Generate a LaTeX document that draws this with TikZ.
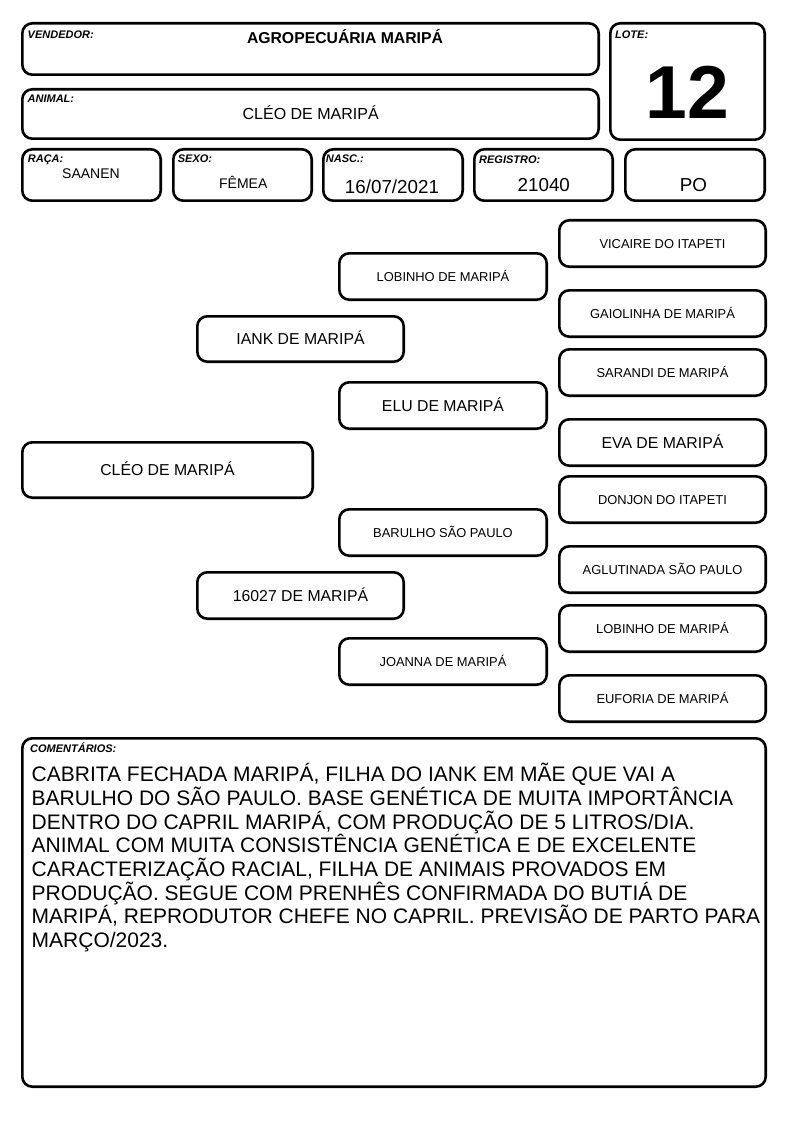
\documentclass[tikz,border=0pt]{standalone}
\usepackage{fontspec}
\setmainfont{Liberation Sans}
\usetikzlibrary{positioning}
\providecommand*{\pxfont}[1]{\fontsize{#1}{#1}\selectfont}

\tikzset{
    box/.style = {draw, line width = 2.6pt, rounded corners = 10pt, inner sep = 0pt, align = center},
    lbl/.style = {anchor = base west, inner sep = 0pt, font = \pxfont{11}\bfseries\itshape},
    val/.style = {anchor = base, inner sep = 0pt},
    small/.style = {font = \pxfont{12.9}, text height = 9.2pt, text depth = 0pt},
    big/.style = {font = \pxfont{15.8}, text height = 11.3pt, text depth = 0pt},
}

\begin{document}
\begin{tikzpicture}[x = 1pt, y = -1pt, black]
    \useasboundingbox (0,0) rectangle (794,1123);

    % header
    \node (vend) [box, minimum width = 576.4pt, minimum height = 51.4pt] at (310.5,49) {};
    \node (anim) [box, minimum width = 576.4pt, minimum height = 49.4pt] at (310.5,114) {};
    \node (lote) [box, minimum width = 154.4pt, minimum height = 116.4pt] at (687.5,81.5) {};

    \node (vendlbl) [lbl] at (27.5,39) {VENDEDOR:};
    \node (vendval) [val, font = \pxfont{15.75}\bfseries] at (345,43.3) {AGROPECUÁRIA MARIPÁ};
    \node (animlbl) [lbl] at (27.5,103) {ANIMAL:};
    \node (animval) [val, font = \pxfont{16}] at (310.7,120) {CLÉO DE MARIPÁ};
    \node (lotelbl) [lbl] at (615,39) {LOTE:};
    \node (loteval) [val, font = \pxfont{75}\bfseries] at (687.5,118.3) {12};

    \node (raca) [box, minimum width = 138.4pt, minimum height = 51.4pt] at (91.5,175) {};
    \node (sexo) [box, minimum width = 138.4pt, minimum height = 51.4pt] at (242.5,175) {};
    \node (nasc) [box, minimum width = 139.4pt, minimum height = 51.4pt] at (393,175) {};
    \node (reg)  [box, minimum width = 138.4pt, minimum height = 51.4pt] at (543.5,175) {};
    \node (po)   [box, minimum width = 139.4pt, minimum height = 51.4pt] at (695,175) {};

    \node (racalbl) [lbl] at (27.7,163) {RAÇA:};
    \node (racaval) [val, font = \pxfont{14}] at (91,178.3) {SAANEN};
    \node (sexolbl) [lbl] at (177.7,163) {SEXO:};
    \node (sexoval) [val, font = \pxfont{14}] at (243.3,189) {FÊMEA};
    \node (nasclbl) [lbl] at (325.7,163) {NASC.:};
    \node (nascval) [val, font = \pxfont{18.8}] at (392,193.3) {16/07/2021};
    \node (reglbl)  [lbl] at (479,164) {REGISTRO:};
    \node (regval)  [val, font = \pxfont{18.8}] at (543.8,191.7) {21040};
    \node (poval)   [val, font = \pxfont{18.8}] at (693.5,191.7) {PO};

    % pedigree
    \node (cleo) [box, big, minimum width = 290.4pt, minimum height = 55.4pt] at (167.5,470) {CLÉO DE MARIPÁ};

    \node (iank)  [box, big, minimum width = 206.4pt, minimum height = 45.4pt] at (300.5,339) {IANK DE MARIPÁ};
    \node (m16027) [box, big, minimum width = 206.4pt, minimum height = 46.4pt] at (300.5,595.5) {16027 DE MARIPÁ};

    \node (lob) [box, small, minimum width = 207.4pt, minimum height = 46.4pt] at (443,276.5) {LOBINHO DE MARIPÁ};
    \node (elu) [box, big,   minimum width = 207.4pt, minimum height = 46.4pt] at (443,405.5) {ELU DE MARIPÁ};
    \node (bar) [box, small, minimum width = 207.4pt, minimum height = 46.4pt] at (443,532.5) {BARULHO SÃO PAULO};
    \node (joa) [box, small, minimum width = 207.4pt, minimum height = 46.4pt] at (443,661.5) {JOANNA DE MARIPÁ};

    \node (vic)  [box, small, minimum width = 206.4pt, minimum height = 46.4pt] at (662.5,243.5) {VICAIRE DO ITAPETI};
    \node (gai)  [box, small, minimum width = 206.4pt, minimum height = 46.4pt] at (662.5,313.5) {GAIOLINHA DE MARIPÁ};
    \node (sar)  [box, small, minimum width = 206.4pt, minimum height = 46.4pt] at (662.5,372.5) {SARANDI DE MARIPÁ};
    \node (eva)  [box, big,   minimum width = 206.4pt, minimum height = 46.4pt] at (662.5,442.5) {EVA DE MARIPÁ};
    \node (don)  [box, small, minimum width = 206.4pt, minimum height = 46.4pt] at (662.5,499.5) {DONJON DO ITAPETI};
    \node (agl)  [box, small, minimum width = 206.4pt, minimum height = 46.4pt] at (662.5,569.5) {AGLUTINADA SÃO PAULO};
    \node (lob2) [box, small, minimum width = 206.4pt, minimum height = 46.4pt] at (662.5,628.5) {LOBINHO DE MARIPÁ};
    \node (euf)  [box, small, minimum width = 206.4pt, minimum height = 46.4pt] at (662.5,698.5) {EUFORIA DE MARIPÁ};

    % comments
    \node (com) [box, minimum width = 743.4pt, minimum height = 348.4pt] at (394,912.5) {};
    \node (comlbl) [lbl] at (30,752) {COMENTÁRIOS:};

    \foreach \t [count = \i from 0] in {
        {CABRITA FECHADA MARIPÁ, FILHA DO IANK EM MÃE QUE VAI A},
        {BARULHO DO SÃO PAULO. BASE GENÉTICA DE MUITA IMPORTÂNCIA},
        {DENTRO DO CAPRIL MARIPÁ, COM PRODUÇÃO DE 5 LITROS/DIA.},
        {ANIMAL COM MUITA CONSISTÊNCIA GENÉTICA E DE EXCELENTE},
        {CARACTERIZAÇÃO RACIAL, FILHA DE ANIMAIS PROVADOS EM},
        {PRODUÇÃO. SEGUE COM PRENHÊS CONFIRMADA DO BUTIÁ DE},
        {MARIPÁ, REPRODUTOR CHEFE NO CAPRIL. PREVISÃO DE PARTO PARA},
        {MARÇO/2023.}}
        \node (com\i) [anchor = base west, inner sep = 0pt, font = \pxfont{21}] at (31.5,{781.7+23.7*\i}) {\t};

\end{tikzpicture}
\end{document}
